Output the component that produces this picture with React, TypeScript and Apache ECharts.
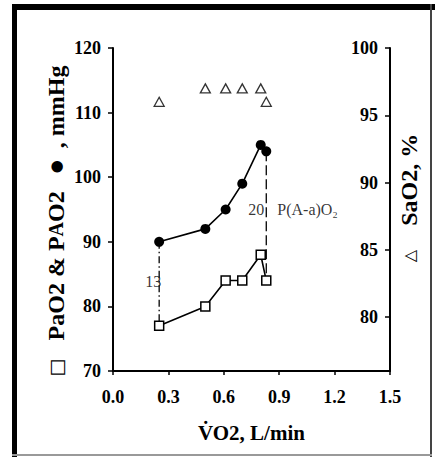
import React, { useEffect, useRef } from "react";
import * as echarts from "echarts";

// Oxygen uptake (L/min) at each stage
const vo2 = [0.25, 0.5, 0.61, 0.7, 0.8, 0.83];
// Alveolar PO2 (filled circles), mmHg
const alveolarPO2 = [90, 92, 95, 99, 105, 104];
// Arterial PO2 (open squares), mmHg
const arterialPO2 = [77, 80, 84, 84, 88, 84];
// Arterial saturation (open triangles), %
const saO2 = [96, 97, 97, 97, 97, 96];

const xTicks = [0.0, 0.3, 0.6, 0.9, 1.2, 1.5];
const leftTicks = [70, 80, 90, 100, 110, 120];
const rightTicks = [80, 85, 90, 95, 100];

const SERIF = "'Liberation Serif', 'Times New Roman', serif";

export default function App() {
  const ref = useRef<HTMLDivElement>(null);

  useEffect(() => {
    if (!ref.current) return;
    const chart = echarts.init(ref.current, null, { renderer: "svg" });

    const first = 0;
    const last = vo2.length - 1;
    const gap = (i: number) => alveolarPO2[i] - arterialPO2[i];
    const mid = (i: number) => (alveolarPO2[i] + arterialPO2[i]) / 2;

    const annot = { fontFamily: SERIF, fontSize: 16, color: "#000" };
    const tickFont = { fontFamily: SERIF, fontWeight: 700, fontSize: 18, color: "#000" };

    chart.setOption({
      animation: false,
      backgroundColor: "#fff",
      grid: { left: 113, right: 47, top: 48, bottom: 86 },
      xAxis: {
        type: "value",
        min: 0,
        max: 1.5,
        interval: 0.3,
        name: "V\u0307O2, L/min",
        nameLocation: "middle",
        nameGap: 51,
        nameTextStyle: { fontFamily: SERIF, fontWeight: 700, fontSize: 21, color: "#000" },
        axisLine: { lineStyle: { color: "#000", width: 2 } },
        axisTick: { show: true, length: 4, lineStyle: { color: "#000", width: 1.5 } },
        axisLabel: {
          ...tickFont,
          margin: 17,
          customValues: xTicks,
          formatter: (v: number) => v.toFixed(1),
        },
        splitLine: { show: false },
      },
      yAxis: [
        {
          type: "value",
          min: 70,
          max: 120,
          interval: 10,
          axisLine: { show: true, lineStyle: { color: "#000", width: 2 } },
          axisTick: { show: true, length: 5, lineStyle: { color: "#000", width: 1.5 } },
          axisLabel: { ...tickFont, margin: 12, customValues: leftTicks },
          splitLine: { show: false },
        },
        {
          type: "value",
          min: 76,
          max: 100,
          position: "right",
          axisLine: { show: true, lineStyle: { color: "#000", width: 2 } },
          axisTick: {
            show: true,
            inside: true,
            length: 5,
            customValues: rightTicks,
            lineStyle: { color: "#000", width: 1.5 },
          },
          axisLabel: { ...tickFont, inside: true, margin: 12, customValues: rightTicks },
          splitLine: { show: false },
        },
      ],
      graphic: [
        // frame
        { type: "rect", shape: { x: 12, y: 4, width: 423, height: 6 }, style: { fill: "#000" } },
        { type: "rect", shape: { x: 12, y: 4, width: 5, height: 453 }, style: { fill: "#000" } },
        { type: "rect", shape: { x: 430, y: 4, width: 2, height: 453 }, style: { fill: "#444" } },
        { type: "rect", shape: { x: 12, y: 454, width: 420, height: 2 }, style: { fill: "#999" } },
        // left axis title
        {
          type: "text",
          x: 56,
          y: 221,
          rotation: Math.PI / 2,
          style: {
            text: "{sym|\u25A1}   PaO2 & P{sc|A}O2   {dot|\u25CF}  , mmHg",
            fontFamily: SERIF,
            fontWeight: 700,
            fontSize: 24,
            fill: "#000",
            align: "center",
            verticalAlign: "middle",
            rich: {
              sym: { fontFamily: "DejaVu Sans", fontWeight: "normal", fontSize: 19, fill: "#000" },
              dot: { fontFamily: "DejaVu Sans", fontWeight: "normal", fontSize: 15, fill: "#000" },
              sc: { fontFamily: SERIF, fontWeight: 700, fontSize: 20, fill: "#000" },
            },
          },
        },
        // right axis title
        {
          type: "text",
          x: 409,
          y: 198,
          rotation: Math.PI / 2,
          style: {
            text: "{tri|\u25B3}    SaO2, %",
            fontFamily: SERIF,
            fontWeight: 700,
            fontSize: 24,
            fill: "#000",
            align: "center",
            verticalAlign: "middle",
            rich: {
              tri: { fontFamily: "DejaVu Sans", fontWeight: "normal", fontSize: 16, fill: "#000" },
            },
          },
        },
      ],
      series: [
        {
          name: "PAO2",
          type: "line",
          data: vo2.map((x, i) => [x, alveolarPO2[i]]),
          symbol: "circle",
          symbolSize: 10,
          itemStyle: { color: "#000" },
          lineStyle: { color: "#000", width: 1.6 },
          z: 5,
        },
        {
          name: "PaO2",
          type: "line",
          data: vo2.map((x, i) => [x, arterialPO2[i]]),
          symbol: "rect",
          symbolSize: 9,
          showAllSymbol: true,
          itemStyle: { color: "#fff", borderColor: "#000", borderWidth: 1.5 },
          lineStyle: { color: "#000", width: 1.6 },
          z: 5,
        },
        {
          name: "SaO2",
          type: "scatter",
          yAxisIndex: 1,
          data: vo2.map((x, i) => [x, saO2[i]]),
          symbol: "triangle",
          symbolSize: [10, 9],
          itemStyle: { color: "#fff", borderColor: "#000", borderWidth: 1.3 },
          z: 5,
        },
        {
          name: "gap-first",
          type: "line",
          data: [
            [vo2[first], alveolarPO2[first]],
            [vo2[first], arterialPO2[first]],
          ],
          symbol: "none",
          lineStyle: { color: "#000", width: 1.3, type: [7, 3, 1.5, 3] },
          z: 3,
        },
        {
          name: "gap-last",
          type: "line",
          data: [
            [vo2[last], alveolarPO2[last]],
            [vo2[last], arterialPO2[last]],
          ],
          symbol: "none",
          lineStyle: { color: "#000", width: 1.3, type: [10, 4] },
          z: 3,
        },
        {
          name: "gap-labels",
          type: "scatter",
          symbolSize: 0,
          silent: true,
          z: 6,
          itemStyle: { color: "#000" },
          label: { show: true, ...annot },
          data: [
            {
              value: [vo2[first], mid(first), gap(first)],
              label: {
                ...annot,
                position: "left",
                distance: 0,
                offset: [2, -2],
                formatter: String(gap(first)),
              },
            },
            {
              value: [vo2[last], mid(last), gap(last)],
              label: {
                ...annot,
                position: "left",
                distance: 2,
                offset: [0, -6],
                formatter: String(gap(last)),
              },
            },
            {
              value: [vo2[last], mid(last), gap(last)],
              label: {
                ...annot,
                position: "right",
                distance: 11,
                offset: [0, -6],
                formatter: "P(A-a)O\u2082",
              },
            },
          ],
        },
      ],
    });

    return () => chart.dispose();
  }, []);

  return (
    <div
      ref={ref}
      style={{ position: "fixed", left: 0, top: 0, width: 437, height: 457, background: "#fff" }}
    />
  );
}
